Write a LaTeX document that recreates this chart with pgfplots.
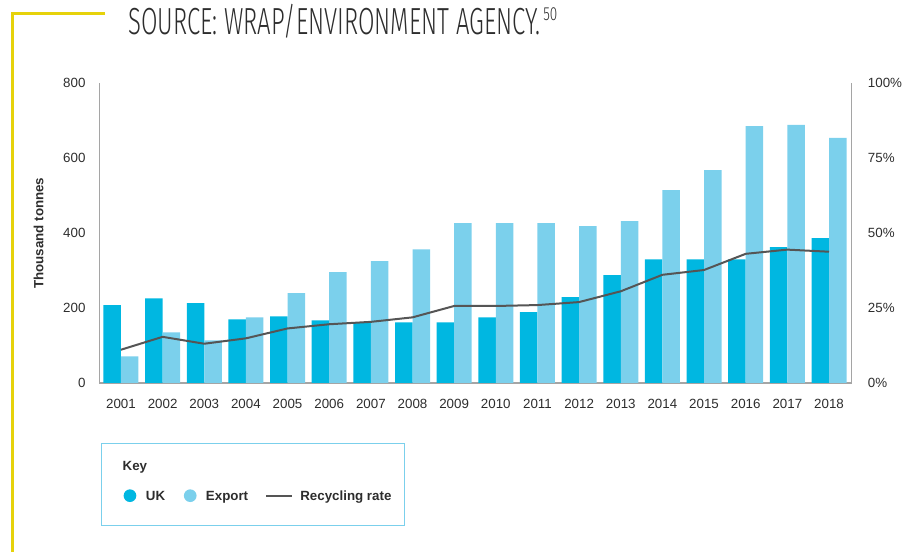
\documentclass[border=0pt]{standalone}
\usepackage{pgfplots}
\usepackage{pgfplotstable}
\pgfplotsset{compat=1.18}
\usepackage{fontspec}
\setmainfont{Liberation Sans}
\newfontfamily\titlefont{Fira Sans Light}
\definecolor{ukblue}{RGB}{0,183,225}
\definecolor{exblue}{RGB}{123,208,236}
\definecolor{rategrey}{RGB}{85,85,85}
\definecolor{axisgrey}{RGB}{165,165,165}
\definecolor{txt}{RGB}{45,45,45}
\definecolor{ylw}{RGB}{230,210,10}
\pgfplotsset{/pgf/number format/assume math mode=true}

\pgfplotstableread{
idx year uk export rate
0 2001 208 71 11.1
1 2002 226 135 15.4
2 2003 213 114 13.1
3 2004 170 175 14.9
4 2005 178 240 18.2
5 2006 167 296 19.6
6 2007 161 325 20.4
7 2008 162 357 21.9
8 2009 162 427 25.7
9 2010 175 427 25.7
10 2011 189 427 26.0
11 2012 229 419 27.0
12 2013 288 432 30.6
13 2014 330 515 36.1
14 2015 330 568 37.7
15 2016 330 686 43.1
16 2017 363 689 44.5
17 2018 387 654 43.8
}\datatable

\pgfplotsset{
  common/.style={
    at={(74.475pt,126.75pt)}, anchor=south west, scale only axis,
    width=564.3pt, height=224.775pt,
    xmin=-0.52, xmax=17.545,
    axis line style={axisgrey, line width=1.1pt, -},
    major tick length=0pt, tick style={draw=none},
    ticklabel style={font=\fontsize{10}{12}\selectfont, text=txt, inner sep=0pt},
  }
}

\begin{document}
\begin{tikzpicture}
\begin{axis}[common,
  ymin=0, ymax=800,
  axis x line*=bottom, axis y line*=left,
  xtick={0,1,...,17},
  xticklabels={2001,2002,2003,2004,2005,2006,2007,2008,2009,2010,2011,2012,2013,2014,2015,2016,2017,2018},
  ytick={0,200,400,600,800},
  yticklabel style={anchor=east, xshift=-10.2pt},
  xticklabel style={anchor=north, yshift=-12.2pt},
  ylabel={Thousand tonnes},
  ylabel style={font=\bfseries\fontsize{10}{12}\selectfont, text=txt, at={(axis description cs:-0.0744,0.5)}, anchor=base, inner sep=0pt},
  ybar, bar width=0.42,
  legend style={at={(axis description cs:0.03196,-0.37604)}, anchor=west, draw=none, fill=none,
    inner sep=0pt, legend columns=-1, column sep=0pt,
    font=\bfseries\fontsize{10}{12}\selectfont, text=txt,
    nodes={inner sep=0pt, text height=6.5pt, text depth=0pt}, cells={anchor=center}},
]
\addplot[fill=ukblue, draw=none, bar shift=-0.21,
  legend image code/.code={\fill[ukblue] (0pt,0pt) circle (4.76pt); \path[draw=none,fill=none] (12pt,0pt) circle (0pt);}]
  table[x=idx, y=uk]{\datatable};
\addlegendentry{UK}
\addplot[fill=exblue, draw=none, bar shift=0.21,
  legend image code/.code={\fill[exblue] (0pt,0pt) circle (4.76pt); \path[draw=none,fill=none] (-18.75pt,0pt) circle (0pt) (11.8pt,0pt) circle (0pt);}]
  table[x=idx, y=export]{\datatable};
\addlegendentry{Export}
\addlegendimage{legend image code/.code={\draw[rategrey, line width=1.5pt] (0pt,0pt) -- (19.2pt,0pt); \path[draw=none,fill=none] (-13.4pt,0pt) circle (0pt) (25.7pt,0pt) circle (0pt);}}
\addlegendentry{Recycling rate}
\end{axis}

\begin{axis}[common,
  ymin=0, ymax=100,
  axis y line*=right, axis x line=none,
  ytick={0,25,50,75,100},
  yticklabel={\pgfmathprintnumber{\tick}\%},
  yticklabel style={anchor=west, xshift=12pt},
]
\addplot[rategrey, line width=1.5pt, mark=none] table[x=idx, y=rate]{\datatable};
\end{axis}

\begin{scope}[x=0.75pt, y=-0.75pt, shift={(0pt,414pt)}]
  \draw[ylw, line width=2.4pt, line join=miter] (105,13.3) -- (12.4,13.3) -- (12.4,552);
  \node[anchor=base west, inner sep=0pt, text=txt] at (128.3,34.3)
    {\resizebox{309pt}{\height}{\titlefont\fontsize{28.3}{30}\selectfont SOURCE: WRAP/ENVIRONMENT AGENCY.}};
  \node[anchor=base west, inner sep=0pt, text=txt] at (543,20.7)
    {\resizebox{10.5pt}{\height}{\titlefont\fontsize{14.2}{16}\selectfont 50}};
  \draw[exblue, line width=0.8pt] (101.7,443.3) rectangle (404.3,525.7);
  \node[anchor=base west, inner sep=0pt, text=txt, font=\bfseries\fontsize{10}{12}\selectfont] at (122.4,470.7) {Key};
\end{scope}
\pgfresetboundingbox
\path[use as bounding box] (0pt,0pt) rectangle (687.75pt,414pt);
\end{tikzpicture}
\end{document}
